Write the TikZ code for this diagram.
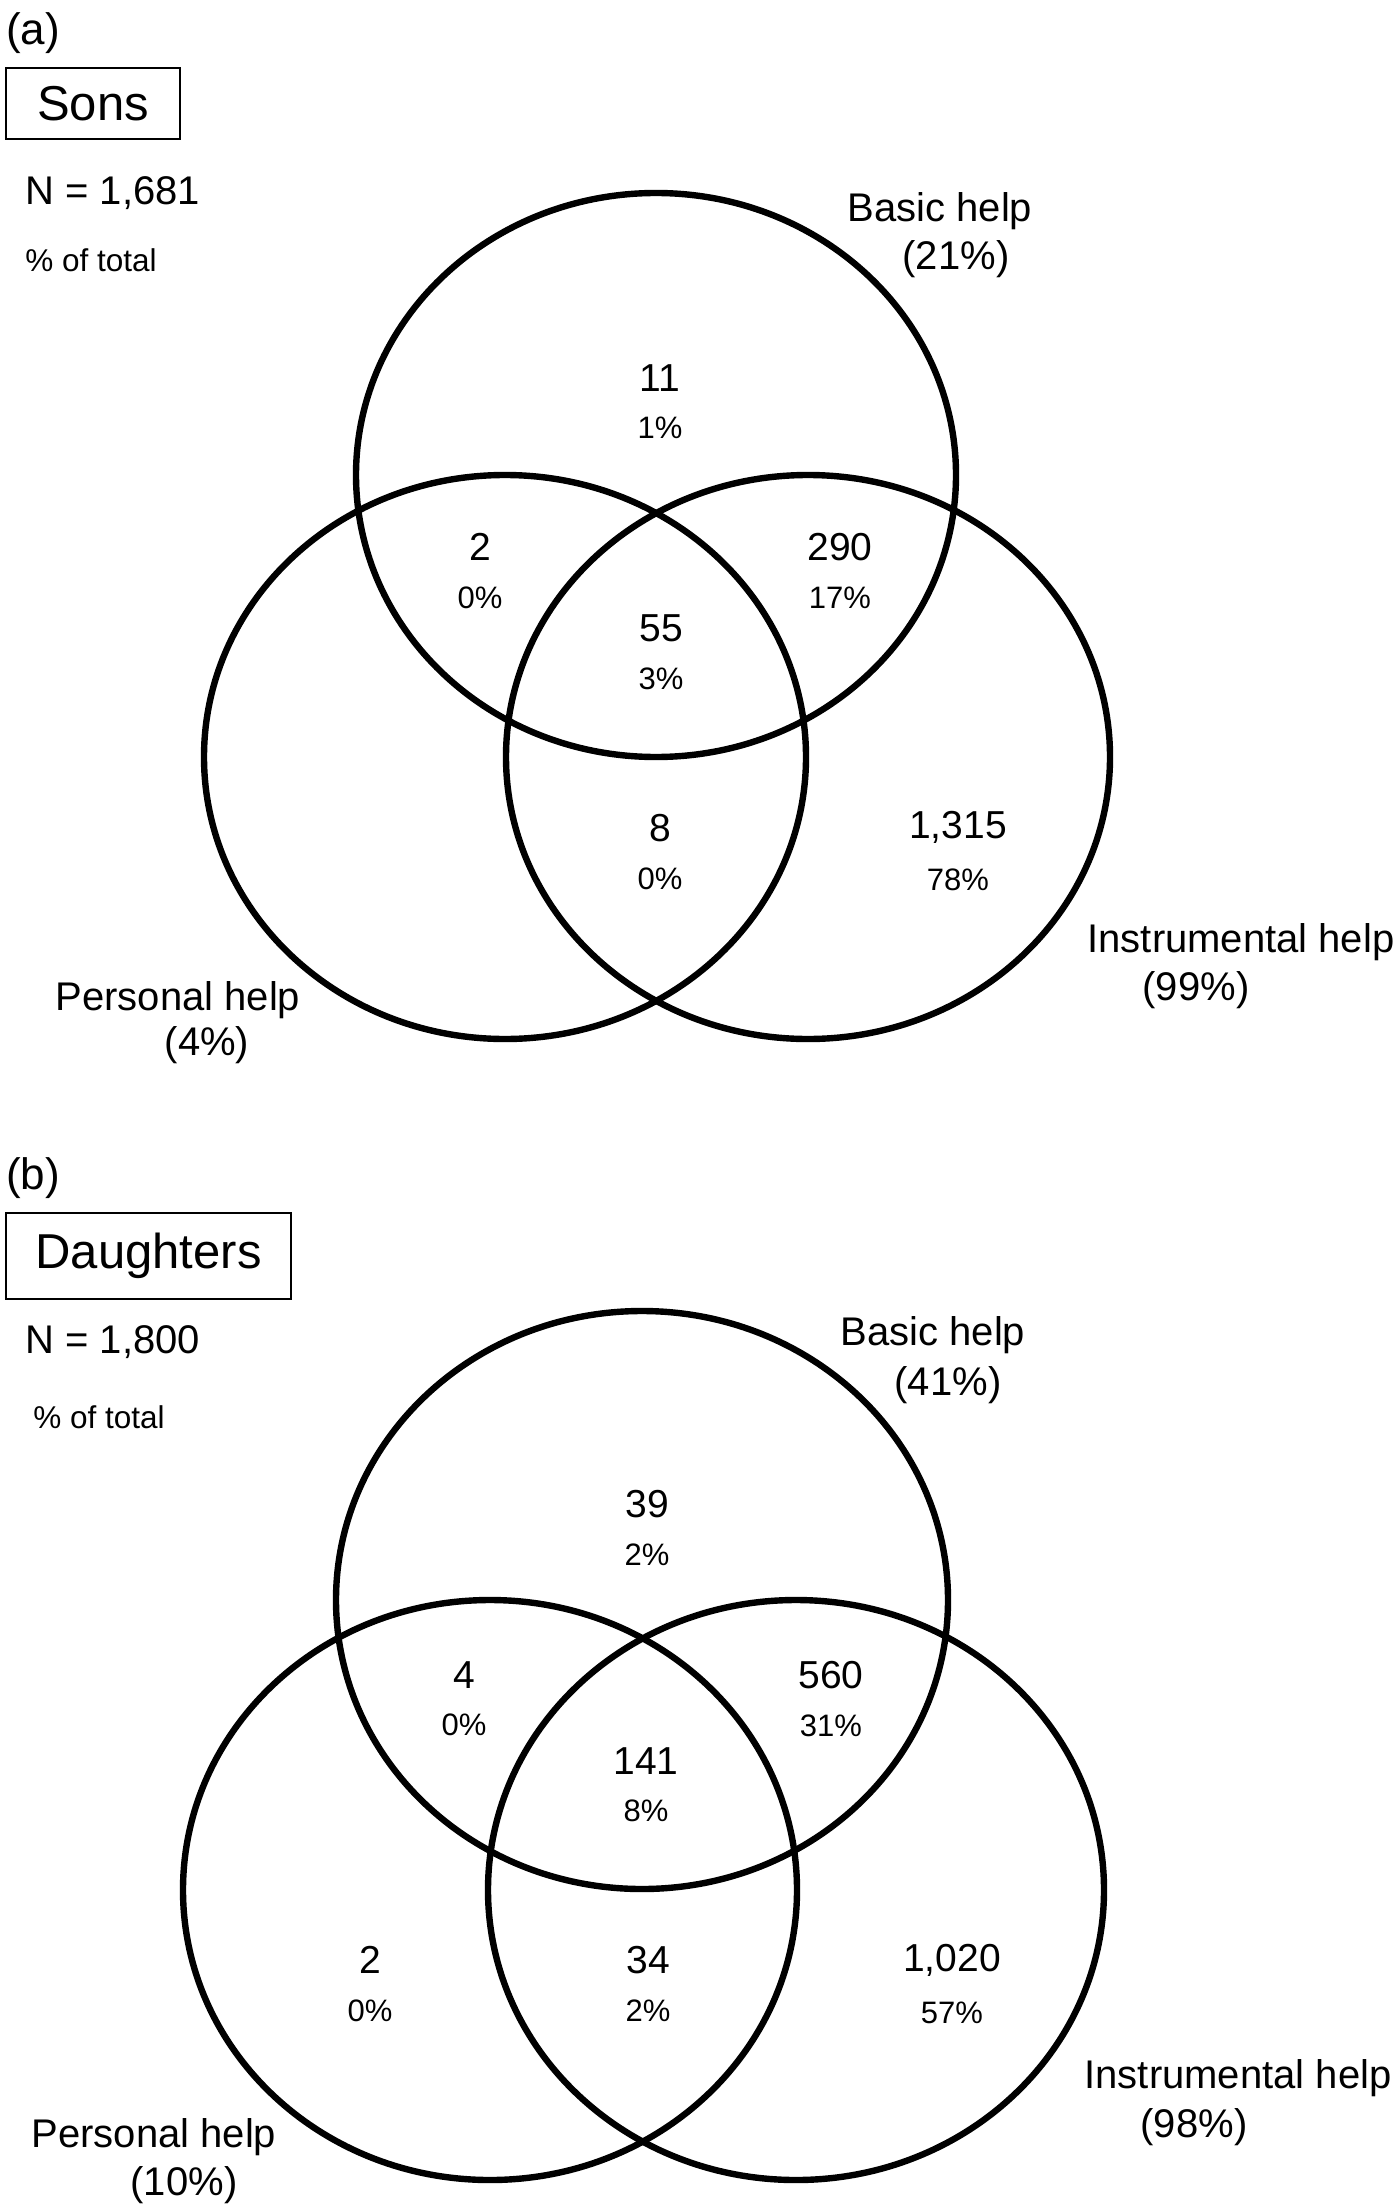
\documentclass[tikz,border=0pt]{standalone}
\usepackage{fontspec}
\setmainfont{Liberation Sans}
\usetikzlibrary{positioning}

\tikzset{
  ring/.style={line width=3.2pt},
  num/.style={inner sep=0pt, font=\fontsize{19.5}{23}\selectfont},
  pct/.style={inner sep=0pt, font=\fontsize{15.5}{18}\selectfont},
  lbl/.style={inner sep=0pt, anchor=base, font=\fontsize{20}{24}\selectfont},
  info/.style={inner sep=0pt, anchor=base west},
  tag/.style={inner sep=0pt, font=\fontsize{22}{26}\selectfont},
  namebox/.style={draw, line width=1pt, anchor=north west, inner sep=0pt,
    font=\fontsize{24.5}{28}\selectfont},
}

\begin{document}
\begin{tikzpicture}[x=0.5pt, y=-0.5pt, node distance=12.5pt]
\useasboundingbox (0,0) rectangle (1400,2209);

% ---- (a) sons
\node[tag] (tagA) at (33,33) {(a)};
\node[namebox, minimum width=87pt, minimum height=35.5pt] (sons) at (5,67) {Sons};
\node[info, font=\fontsize{20}{24}\selectfont] (nA) at (25,205) {N = 1,681};
\node[info, font=\fontsize{15.75}{18}\selectfont] (totA) at (25,272) {\% of total};

\coordinate (basicA) at (656,475);
\coordinate (persA) at (505,757);
\coordinate (instrA) at (808,757);
\draw[ring] (basicA) ellipse [x radius=300, y radius=282];
\draw[ring] (persA) ellipse [x radius=301, y radius=282];
\draw[ring] (instrA) ellipse [x radius=302, y radius=282];

\node[lbl] (basicLA) at (940,222) {Basic help};
\node[lbl] (basicPA) at (956,270) {(21\%)};
\node[lbl] (persLA) at (178,1010) {Personal help};
\node[lbl] (persPA) at (207,1055) {(4\%)};
\node[lbl] (instrLA) at (1241,952) {Instrumental help};
\node[lbl] (instrPA) at (1196,1000) {(99\%)};

\node[num] (bA) at (660,378) {11};
\node[pct, below=of bA] (bApct) {1\%};
\node[num] (bpA) at (480,547) {2};
\node[pct, below=of bpA] (bpApct) {0\%};
\node[num] (biA) at (840,547) {290};
\node[pct, below=of biA] (biApct) {17\%};
\node[num] (allA) at (661,628) {55};
\node[pct, below=of allA] (allApct) {3\%};
\node[num] (piA) at (660,828) {8};
\node[pct, below=of piA] (piApct) {0\%};
\node[num] (iA) at (958,827) {1,315};
\node[pct, below=of iA] (iApct) {78\%};

% ---- (b) daughters
\node[tag] (tagB) at (33,1178) {(b)};
\node[namebox, minimum width=142.5pt, minimum height=43pt] (daughters) at (5,1212) {Daughters};
\node[info, font=\fontsize{20}{24}\selectfont] (nB) at (25,1353) {N = 1,800};
\node[info, font=\fontsize{15.75}{18}\selectfont] (totB) at (33,1428) {\% of total};

\coordinate (basicB) at (642,1600);
\coordinate (persB) at (490,1890);
\coordinate (instrB) at (796,1890);
\draw[ring] (basicB) ellipse [x radius=306, y radius=289];
\draw[ring] (persB) ellipse [x radius=307, y radius=290];
\draw[ring] (instrB) ellipse [x radius=308, y radius=290];

\node[lbl] (basicLB) at (933,1345) {Basic help};
\node[lbl] (basicPB) at (948,1395) {(41\%)};
\node[lbl] (persLB) at (154,2147) {Personal help};
\node[lbl] (persPB) at (184,2195) {(10\%)};
\node[lbl] (instrLB) at (1238,2088) {Instrumental help};
\node[lbl] (instrPB) at (1194,2137) {(98\%)};

\node[num] (bB) at (647,1504) {39};
\node[pct, below=of bB] (bBpct) {2\%};
\node[num] (bpB) at (464,1675) {4};
\node[pct, below=of bpB] (bpBpct) {0\%};
\node[num] (biB) at (831,1675) {560};
\node[pct, below=of biB] (biBpct) {31\%};
\node[num] (allB) at (646,1761) {141};
\node[pct, below=of allB] (allBpct) {8\%};
\node[num] (pB) at (370,1960) {2};
\node[pct, below=of pB] (pBpct) {0\%};
\node[num] (piB) at (648,1960) {34};
\node[pct, below=of piB] (piBpct) {2\%};
\node[num] (iB) at (952,1960) {1,020};
\node[pct, below=of iB] (iBpct) {57\%};

\end{tikzpicture}
\end{document}
